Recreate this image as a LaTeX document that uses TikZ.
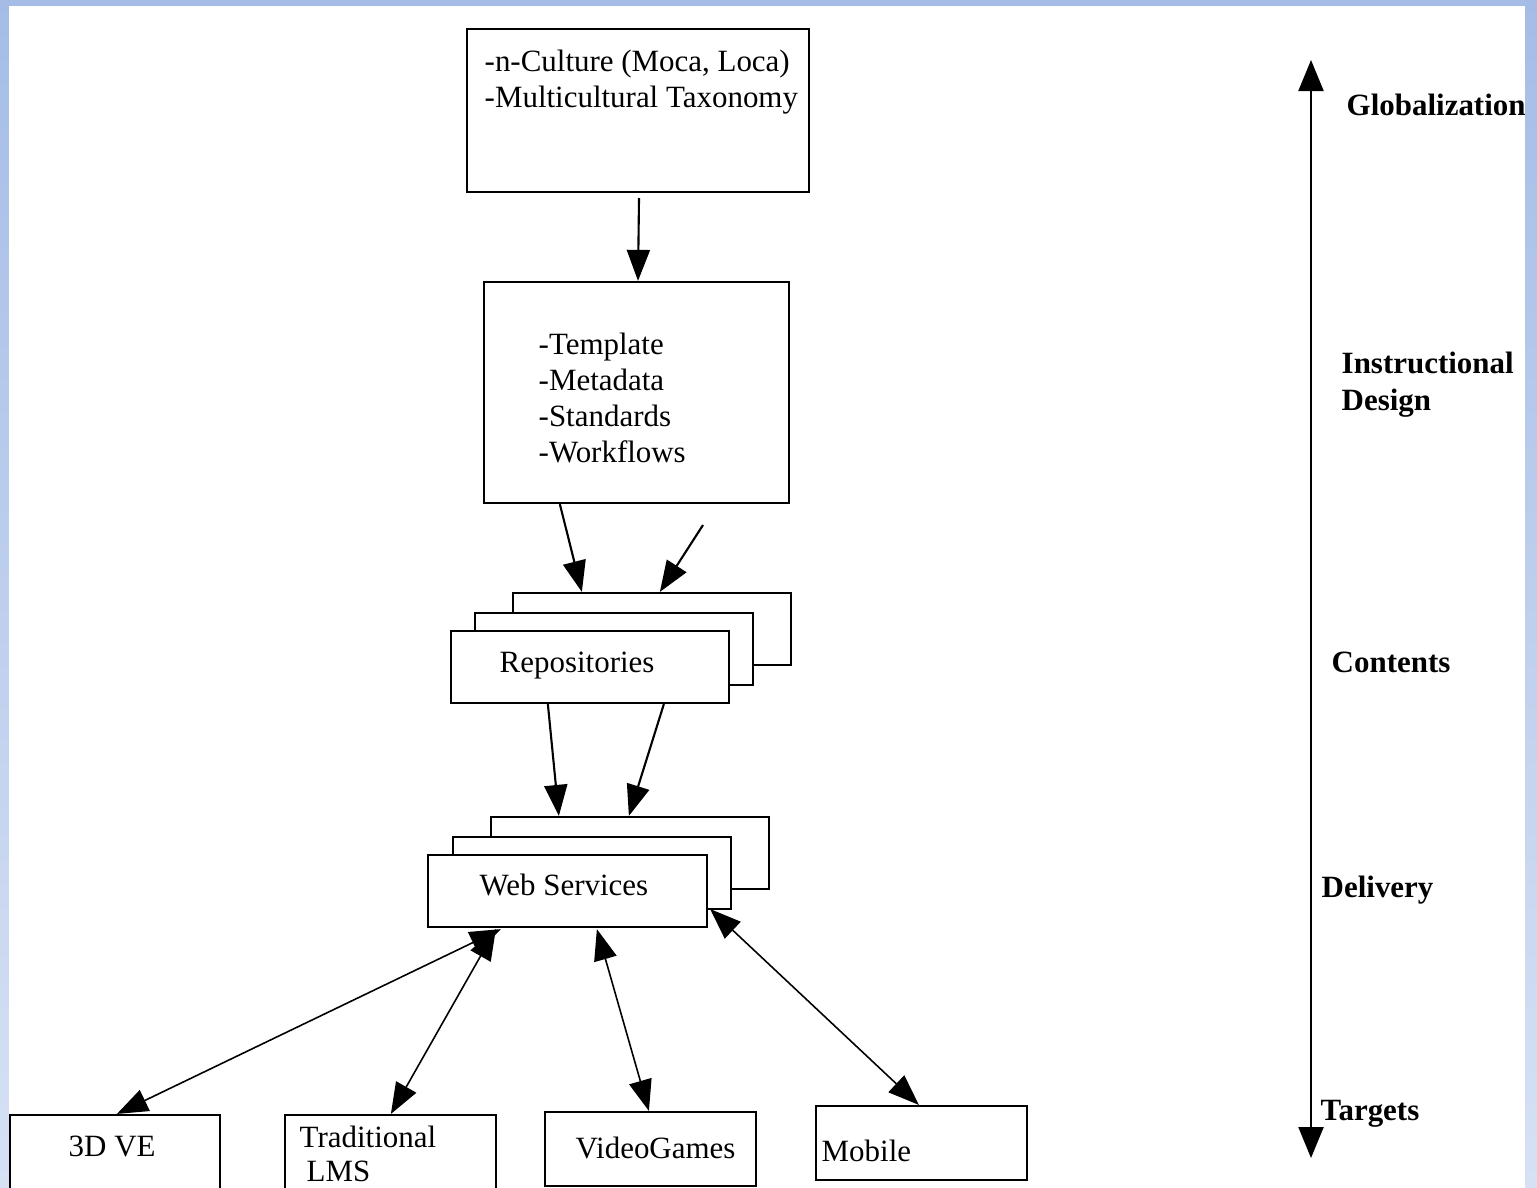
\documentclass[tikz,border=0pt]{standalone}
\usepackage{fontspec}
\setmainfont{Liberation Serif}
\usetikzlibrary{arrows.meta,calc}
\definecolor{bgtop}{RGB}{165,189,230}
\definecolor{bgbot}{RGB}{214,225,244}
\begin{document}
\begin{tikzpicture}[x={(0.01cm,0)},y={(0,-0.01cm)},
  box/.style={draw=black, fill=white, line width=0.6pt, rectangle, inner sep=0pt},
  txt/.style={anchor=base west, inner sep=0pt, font=\fontsize{8.8}{10.24}\selectfont},
  lbl/.style={anchor=base west, inner sep=0pt, font=\fontsize{8.8}{10.6}\selectfont\bfseries},
  flow/.style={-{Triangle[length=0.31cm,width=0.23cm]}, line width=0.6pt},
  both/.style={{Triangle[length=0.31cm,width=0.23cm]}-{Triangle[length=0.31cm,width=0.23cm]}, line width=0.45pt},
]
\useasboundingbox (0,0) rectangle (1537,1187);
\clip (0,0) rectangle (1537,1187);
\shade[top color=bgtop, bottom color=bgbot] (0,0) rectangle (1537,1187);
\fill[white] (9,6) rectangle (1525,1200);

% boxes
\node[box, minimum width=3.42cm, minimum height=1.63cm] (cult) at (638,110.5) {};
\node[box, minimum width=3.05cm, minimum height=2.21cm] (tmpl) at (636.5,392.5) {};
\node[box, minimum width=2.78cm, minimum height=0.72cm] (repoB) at (652,629) {};
\node[box, minimum width=2.78cm, minimum height=0.72cm] (repoM) at (614,649) {};
\node[box, minimum width=2.78cm, minimum height=0.72cm] (repoA) at (590,667) {};
\node[box, minimum width=2.78cm, minimum height=0.72cm] (wsB) at (630,853) {};
\node[box, minimum width=2.78cm, minimum height=0.72cm] (wsM) at (592,873) {};
\node[box, minimum width=2.79cm, minimum height=0.72cm] (wsA) at (567.5,891) {};
\node[box, minimum width=2.10cm, minimum height=1.00cm] (ve) at (115,1165) {};
\node[box, minimum width=2.11cm, minimum height=1.00cm] (lms) at (390.5,1165) {};
\node[box, minimum width=2.11cm, minimum height=0.74cm] (vg) at (650.5,1149) {};
\node[box, minimum width=2.11cm, minimum height=0.74cm] (mob) at (921.5,1143) {};

% texts
\node[txt] (c1) at (484,71) {-n-Culture (Moca, Loca)};
\node[txt] (c2) at (484,107) {-Multicultural Taxonomy};
\node[txt] (m1) at (538,354) {-Template};
\node[txt] (m2) at (538,390) {-Metadata};
\node[txt] (m3) at (538,426) {-Standards};
\node[txt] (m4) at (538,462) {-Workflows};
\node[txt] (rt) at (499,672) {Repositories};
\node[txt] (wt) at (479,895) {Web Services};
\node[txt] (vt) at (68,1156) {3D VE};
\node[txt] (lt1) at (299,1147) {Traditional};
\node[txt] (lt2) at (306,1181) {LMS};
\node[txt] (gt) at (575,1158) {VideoGames};
\node[txt] (mt) at (821,1161) {Mobile};

% axis labels
\node[lbl] (l1) at (1346,115) {Globalization};
\node[lbl] (l2) at (1341,373) {Instructional};
\node[lbl] (l3) at (1341,410) {Design};
\node[lbl] (l4) at (1331,672) {Contents};
\node[lbl] (l5) at (1321,897) {Delivery};
\node[lbl] (l6) at (1320,1120) {Targets};

% axis
\coordinate (axtop) at (1311,60);
\coordinate (axbot) at (1311,1158);
\draw[{Triangle[length=0.31cm,width=0.25cm]}-{Triangle[length=0.31cm,width=0.25cm]}, line width=0.6pt] (axtop) -- (axbot);

% flow arrows
\draw[flow] ($(cult.south)+(1,5)$) -- ($(tmpl.north)+(1.5,0)$);
\draw[flow] ($(tmpl.south west)+(77,0)$) -- ($(repoB.north west)+(70,0)$);
\coordinate (free) at (703,525);
\draw[flow] (free) -- ($(repoB.north west)+(148,0)$);
\draw[flow] ($(repoA.south west)+(98,0)$) -- ($(wsB.north west)+(69,0)$);
\draw[flow] ($(repoA.south west)+(214,0)$) -- ($(wsB.north west)+(139,0)$);

% bidirectional
\draw[both] ($(wsA.south west)+(74,1)$) -- ($(ve.north west)+(108,0)$);
\draw[both] ($(wsA.south west)+(69,1)$) -- ($(lms.north west)+(107,0)$);
\draw[both] ($(wsA.south west)+(170,1)$) -- ($(vg.north west)+(105,0)$);
\draw[both] ($(wsA.east)+(2,18)$) -- ($(mob.north west)+(104,0)$);
\end{tikzpicture}
\end{document}
